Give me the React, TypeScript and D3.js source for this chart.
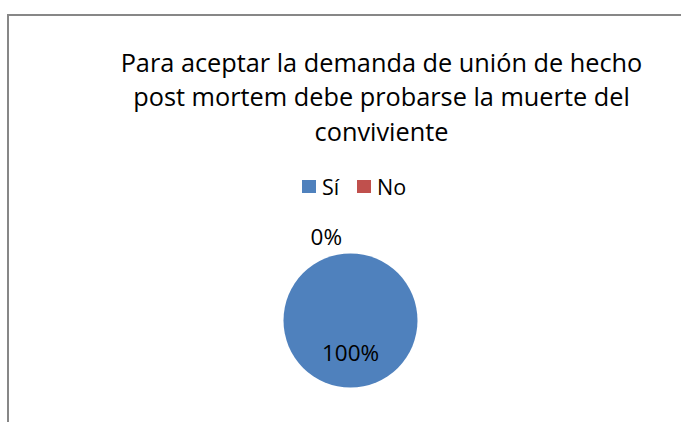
import React from "react";
import * as d3 from "d3";

const categories = ["Sí", "No"];
const values = [100, 0];
const colors = ["#4F81BD", "#C0504D"];
const titleLines = [
  "Para aceptar la demanda de unión de hecho",
  "post mortem debe probarse la muerte del",
  "conviviente",
];

export default function App() {
  const W = 682;
  const H = 422;
  const cx = 350.5;
  const cy = 320.5;
  const r = 67;
  const font = "'Open Sans', sans-serif";

  const pie = d3.pie<number>().sort(null).value((d) => d);
  const arcs = pie(values);
  const arc = d3.arc<d3.PieArcDatum<number>>().innerRadius(0).outerRadius(r);
  const outerArc = d3.arc<d3.PieArcDatum<number>>().innerRadius(r + 19).outerRadius(r + 19);
  const total = d3.sum(values);
  const fmt = (v: number) => `${Math.round((v / total) * 100)}%`;

  const legendX = d3.scalePoint<string>().domain(categories).range([302, 357]);

  return (
    <div style={{ position: "fixed", left: 0, top: 0 }}>
      <svg width={W} height={H} style={{ display: "block", background: "#fff" }}>
        <path d={`M8,${H} V15 H681`} fill="none" stroke="#878787" strokeWidth={2} />
        {titleLines.map((t, i) => (
          <text
            key={i}
            x={381.5}
            y={71.5 + i * 34.5}
            textAnchor="middle"
            fontFamily={font}
            fontSize={25.3}
            fill="#000"
          >
            {t}
          </text>
        ))}
        {categories.map((c, i) => (
          <g key={c} transform={`translate(${legendX(c)},180)`}>
            <rect width={14} height={13} fill={colors[i]} />
            <text x={20} y={14.5} fontFamily={font} fontSize={21.5} fill="#000">
              {c}
            </text>
          </g>
        ))}
        <g transform={`translate(${cx},${cy})`}>
          {arcs.map((a, i) =>
            a.endAngle - a.startAngle > 0 ? (
              a.endAngle - a.startAngle >= 2 * Math.PI - 1e-9 ? (
                <circle key={i} r={r} fill={colors[i]} />
              ) : (
                <path key={i} d={arc(a) || ""} fill={colors[i]} />
              )
            ) : null
          )}
          {arcs.map((a, i) => {
            const inside = a.endAngle - a.startAngle > 0;
            if (inside) {
              const [x, y] = arc.centroid(a);
              return (
                <text
                  key={"l" + i}
                  x={x}
                  y={y + 7}
                  textAnchor="middle"
                  fontFamily={font}
                  fontSize={22.5}
                  fill="#000"
                >
                  {fmt(a.data)}
                </text>
              );
            }
            const [x, y] = outerArc.centroid(a);
            return (
              <text
                key={"l" + i}
                x={x - 8.5}
                y={y + 10}
                textAnchor="end"
                fontFamily={font}
                fontSize={22.5}
                fill="#000"
              >
                {fmt(a.data)}
              </text>
            );
          })}
        </g>
      </svg>
    </div>
  );
}
